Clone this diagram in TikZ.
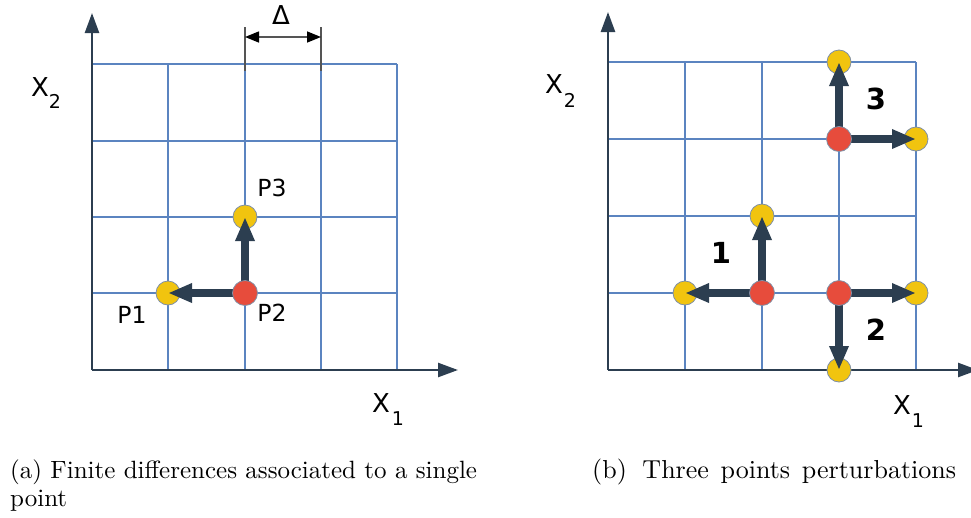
\documentclass[tikz,border=0pt]{standalone}
\usepackage{fontspec}
\newfontfamily\lblfont{DejaVu Sans}
\newfontfamily\capfont{lmroman10-regular}[Extension=.otf]
\usetikzlibrary{arrows.meta}
\definecolor{gridc}{HTML}{5B84C0}
\definecolor{axisc}{HTML}{2C3E50}
\definecolor{yel}{HTML}{F1C40F}
\definecolor{redc}{HTML}{E74C3C}
\definecolor{ptedge}{HTML}{7F8FA6}
\definecolor{dimc}{HTML}{555555}
\begin{document}
\begin{tikzpicture}[x=1pt,y=-1pt,
 gridline/.style={draw=gridc, line width=1.2pt},
 axis/.style={draw=axisc, line width=2.5pt, -{Triangle[length=20pt,width=14pt]}},
 pert/.style={draw=axisc, line width=8pt, -{Triangle[length=24pt,width=18pt]}},
 ypt/.style={circle, fill=yel, draw=ptedge, line width=0.8pt, minimum size=24pt, inner sep=0},
 rpt/.style={circle, fill=redc, draw=ptedge, line width=0.8pt, minimum size=25pt, inner sep=0},
 lbl/.style={font=\lblfont\fontsize{23.5}{28}\selectfont, inner sep=0},
 axl/.style={font=\lblfont\fontsize{26}{30}\selectfont, inner sep=0},
 sublbl/.style={font=\lblfont\fontsize{19}{22}\selectfont, inner sep=0},
 num/.style={font=\lblfont\bfseries\fontsize{29}{34}\selectfont, inner sep=0},
 captext/.style={font=\capfont\fontsize{25}{29}\selectfont, inner sep=0, anchor=base west},
 captextb/.style={font=\capfont\fontsize{26}{29}\selectfont, inner sep=0, anchor=base west},
 dimtick/.style={draw=dimc, line width=1.5pt},
 dimarrow/.style={draw=dimc, line width=1.5pt, {Triangle[length=14pt,width=11pt,color=black]}-{Triangle[length=14pt,width=11pt,color=black]}},
]
\useasboundingbox (0,0) rectangle (971,517);

% ---------- left panel ----------
\foreach \x in {168,245,321,397} \draw[gridline] (\x,64) -- (\x,370);
\foreach \y in {64,141,217,293} \draw[gridline] (92,\y) -- (397,\y);

\coordinate (oL) at (92,370);
\coordinate (yL) at (92,13);
\coordinate (xL) at (458,370);
\draw[axis] (oL) -- (yL);
\draw[axis] (oL) -- (xL);

% Delta dimension
\coordinate (d1t) at (245,27); \coordinate (d1b) at (245,71);
\coordinate (d2t) at (321,27); \coordinate (d2b) at (321,71);
\coordinate (d1) at (245,37); \coordinate (d2) at (321,37);
\draw[dimtick] (d1t) -- (d1b);
\draw[dimtick] (d2t) -- (d2b);
\draw[dimarrow] (d1) -- (d2);
\node[axl] (delta) at (281,15) {Δ};

% points
\node[ypt] (P1) at (168,293) {};
\node[ypt] (P3) at (245,217) {};
\coordinate (P2c) at (245,293);
\draw[pert] (P2c) -- (P1.center);
\draw[pert] (P2c) -- (P3.center);
\node[rpt] (P2) at (P2c) {};

\node[lbl] (lP3) at (272,188) {P3};
\node[lbl] (lP1) at (132,315) {P1};
\node[lbl] (lP2) at (272,313) {P2};

\node[axl] (lX2L) at (40,87) {X};
\node[sublbl] (lX2Ls) at (55,101) {2};
\node[axl] (lX1L) at (381,403) {X};
\node[sublbl] (lX1Ls) at (398,419) {1};

% ---------- right panel ----------
\foreach \x in {685,762,839,916} \draw[gridline] (\x,62) -- (\x,370);
\foreach \y in {62,139,216,293} \draw[gridline] (608,\y) -- (916,\y);

\coordinate (oR) at (608,370);
\coordinate (yR) at (608,12);
\coordinate (xR) at (978,370);
\draw[axis] (oR) -- (yR);
\draw[axis] (oR) -- (xR);

% group 1
\node[ypt] (A1) at (685,293) {};
\node[ypt] (A3) at (762,216) {};
\coordinate (A2c) at (762,293);
\draw[pert] (A2c) -- (A1.center);
\draw[pert] (A2c) -- (A3.center);
\node[rpt] (A2) at (A2c) {};
% group 2
\node[ypt] (B1) at (916,293) {};
\node[ypt] (B3) at (839,370) {};
\coordinate (B2c) at (839,293);
\draw[pert] (B2c) -- (B1.center);
\draw[pert] (B2c) -- (B3.center);
\node[rpt] (B2) at (B2c) {};
% group 3
\node[ypt] (C1) at (916,139) {};
\node[ypt] (C3) at (839,62) {};
\coordinate (C2c) at (839,139);
\draw[pert] (C2c) -- (C1.center);
\draw[pert] (C2c) -- (C3.center);
\node[rpt] (C2) at (C2c) {};

\node[num] (n1) at (721,253) {1};
\node[num] (n2) at (876,330) {2};
\node[num] (n3) at (876,99) {3};

\node[axl] (lX2R) at (554,84) {X};
\node[sublbl] (lX2Rs) at (570,100) {2};
\node[axl] (lX1R) at (902,405) {X};
\node[sublbl] (lX1Rs) at (918,421) {1};

% ---------- captions ----------
\node[captext] (capa1) at (10,478) {(a) Finite differences associated to a single};
\node[captext] (capa2) at (10,506) {point};
\node[captextb] (capb) at (592,478) {\spaceskip=0.45em\relax (b)\hspace{0.6em}Three points perturbations};
\end{tikzpicture}
\end{document}
